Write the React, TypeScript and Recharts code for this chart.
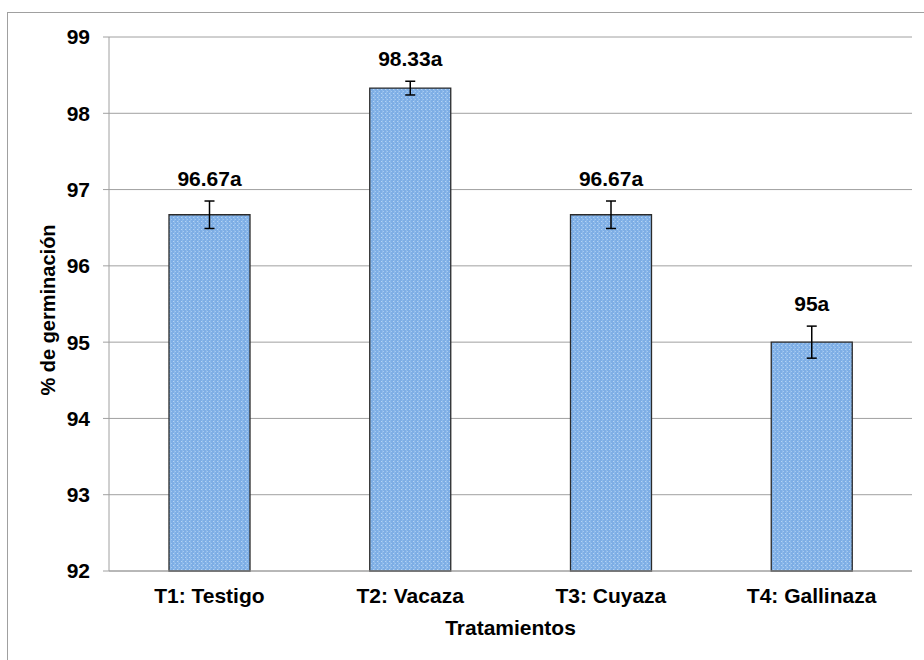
import React from 'react';
import { BarChart, Bar, XAxis, YAxis, CartesianGrid, ErrorBar, LabelList, Label } from 'recharts';

const categories = ['T1: Testigo', 'T2: Vacaza', 'T3: Cuyaza', 'T4: Gallinaza'];
const germination = [96.67, 98.33, 96.67, 95];
const errors = [0.18, 0.09, 0.18, 0.21];
const valueLabels = ['96.67a', '98.33a', '96.67a', '95a'];
const yTicks = [92, 93, 94, 95, 96, 97, 98, 99];
const boundaryTicks = [0, 1, 2, 3, 4];

const data = categories.map((c, i) => ({ name: c, value: germination[i], err: errors[i] }));

const FONT = '"Liberation Sans", Arial, Helvetica, sans-serif';
const GRAY = '#a0a0a0';

const ValueLabel = (props: any) => {
  const { x, y, width, height, value } = props;
  const i = categories.indexOf(value);
  if (i < 0) return null;
  const pxPerUnit = height / (germination[i] - 92);
  const errTop = y - errors[i] * pxPerUnit;
  return (
    <text
      x={x + width / 2}
      y={errTop - 15}
      textAnchor="middle"
      fontFamily={FONT}
      fontWeight="bold"
      fontSize={21}
      fill="#000"
    >
      {valueLabels[i]}
    </text>
  );
};

const YTitle = (props: any) => {
  const vb = props.viewBox;
  const cx = 48;
  const cy = vb.y + vb.height / 2 + 6;
  return (
    <text
      x={cx}
      y={cy}
      transform={`rotate(-90, ${cx}, ${cy})`}
      textAnchor="middle"
      dominantBaseline="central"
      fontFamily={FONT}
      fontWeight="bold"
      fontSize={20}
      fill="#000"
    >
      % de germinación
    </text>
  );
};

const XTitle = (props: any) => {
  const vb = props.viewBox;
  return (
    <text
      x={vb.x + vb.width / 2}
      y={635}
      textAnchor="middle"
      fontFamily={FONT}
      fontWeight="bold"
      fontSize={21}
      fill="#000"
    >
      Tratamientos
    </text>
  );
};

export default function App() {
  return (
    <div style={{ position: 'absolute', left: 0, top: 0, width: 924, height: 660, background: '#fff', overflow: 'hidden' }}>
      <div
        style={{
          position: 'absolute',
          left: 7,
          top: 12,
          width: 917,
          height: 648,
          borderLeft: `1px solid ${GRAY}`,
          borderTop: `1px solid ${GRAY}`,
        }}
      />
      <div style={{ position: 'absolute', left: 0, top: 0 }}>
        <BarChart
          width={924}
          height={660}
          data={data}
          margin={{ top: 37, right: 12, bottom: 0, left: 0 }}
        >
          <defs>
            <pattern id="dots" width="4" height="4" patternUnits="userSpaceOnUse">
              <rect width="4" height="4" fill="#7eaee5" />
              <rect x="1" y="1" width="1" height="1" fill="#b5d3f3" />
              <rect x="3" y="3" width="1" height="1" fill="#a6c9f0" />
              <rect x="2" y="0" width="1" height="4" fill="#8dbaeb" />
            </pattern>
          </defs>
          <CartesianGrid vertical={false} stroke={GRAY} strokeWidth={1} />
          <XAxis
            xAxisId="b"
            type="number"
            domain={[0, 4]}
            ticks={boundaryTicks}
            tick={false}
            axisLine={false}
            tickLine={{ stroke: GRAY }}
            tickSize={6}
            height={0}
            allowDataOverflow
          />
          <XAxis
            dataKey="name"
            axisLine={{ stroke: GRAY }}
            tickLine={false}
            tickSize={0}
            tickMargin={17}
            height={89}
            interval={0}
            tick={{ fill: '#000', fontFamily: FONT, fontWeight: 'bold', fontSize: 21 }}
          >
            <Label content={<XTitle />} />
          </XAxis>
          <YAxis
            domain={[92, 99]}
            ticks={yTicks}
            interval={0}
            width={109}
            axisLine={{ stroke: GRAY }}
            tickLine={{ stroke: GRAY }}
            tickSize={6}
            tickMargin={13}
            tick={{ fill: '#000', fontFamily: FONT, fontWeight: 'bold', fontSize: 21 }}
          >
            <Label content={<YTitle />} />
          </YAxis>
          <Bar
            dataKey="value"
            fill="url(#dots)"
            stroke="#2b2b2b"
            strokeWidth={1.3}
            barSize={81}
            isAnimationActive={false}
          >
            <ErrorBar dataKey="err" width={5} stroke="#000" strokeWidth={1.5} direction="y" />
            <LabelList dataKey="name" content={<ValueLabel />} />
          </Bar>
        </BarChart>
      </div>
    </div>
  );
}
